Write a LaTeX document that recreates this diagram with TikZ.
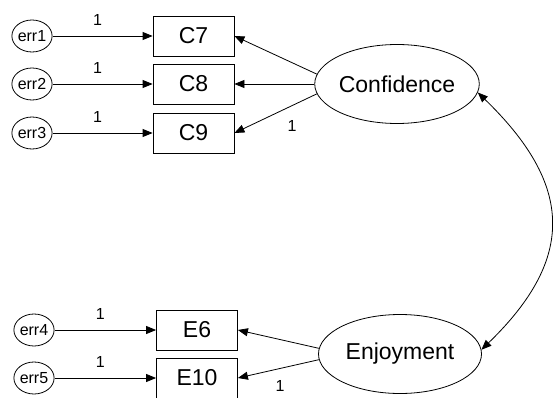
\documentclass[tikz,border=0pt]{standalone}
\usepackage{fontspec}
\setmainfont{Liberation Sans}
\usetikzlibrary{arrows.meta,shapes.geometric}
\tikzset{
    err/.style ={
        shape=ellipse,
        draw=black,
        line width=0.8pt,
        inner sep=0pt,
        minimum width=40pt,
        minimum height=32pt,
        font=\fontsize{16}{18}\selectfont
    },
    obs/.style ={
        shape=rectangle,
        draw=black,
        line width=0.8pt,
        minimum width=81pt,
        minimum height=40pt,
        font=\fontsize{23}{25}\selectfont
    },
    lat/.style ={
        shape=ellipse,
        draw=black,
        line width=0.8pt,
        inner sep=0pt,
        minimum width=163pt,
        minimum height=79pt,
        font=\fontsize{23}{25}\selectfont
    },
    reg/.style ={
        draw,
        line width=0.8pt,
        -{Triangle[length=10pt,width=8pt]}
    },
    cov/.style ={
        draw,
        line width=0.8pt,
        {Triangle[length=10pt,width=8pt]}-{Triangle[length=10pt,width=8pt]}
    },
    wt/.style ={
        inner sep=1pt,
        font=\fontsize{16}{18}\selectfont
    }
}

\begin{document}
\begin{tikzpicture}[x=1pt,y=-1pt]
    \useasboundingbox (0,0) rectangle (553,398);
    \node[err] (err1) at(32,36) {err1};
    \node[err] (err2) at(32,84) {err2};
    \node[err] (err3) at(32,133) {err3};
    \node[err] (err4) at(34,330) {err4};
    \node[err] (err5) at(34,378) {err5};
    \node[obs] (C7) at(193.5,36) {C7};
    \node[obs] (C8) at(193.5,84) {C8};
    \node[obs] (C9) at(193.5,133) {C9};
    \node[obs] (E6) at(197,330) {E6};
    \node[obs] (E10) at(197,378) {E10};
    \node[lat] (conf) at(397,84) {Confidence};
    \node[lat] (enj) at(400,354) {Enjoyment};
    % error paths
    \draw[reg] (err1) -- node[wt,pos=0.45,above=9pt] (w1) {1} (C7);
    \draw[reg] (err2) -- node[wt,pos=0.45,above=9pt] (w2) {1} (C8);
    \draw[reg] (err3) -- node[wt,pos=0.45,above=9pt] (w3) {1} (C9);
    \draw[reg] (err4) -- node[wt,pos=0.45,above=9pt] (w4) {1} (E6);
    \draw[reg] (err5) -- node[wt,pos=0.45,above=9pt] (w5) {1} (E10);
    % loadings
    \draw[reg] (conf.173) -- (C7.east);
    \draw[reg] (conf.180) -- (C8.east);
    \draw[reg] (conf.187) -- node[wt,pos=0.3,below=14pt] (w6) {1} (C9.east);
    \draw[reg] (enj.176) -- (E6.east);
    \draw[reg] (enj.184) -- node[wt,pos=0.48,below=11pt] (w7) {1} (E10.east);
    % covariance
    \draw[cov] (conf.-6) .. controls +(95,92) and +(95,-92) .. (enj.3);
\end{tikzpicture}
\end{document}
